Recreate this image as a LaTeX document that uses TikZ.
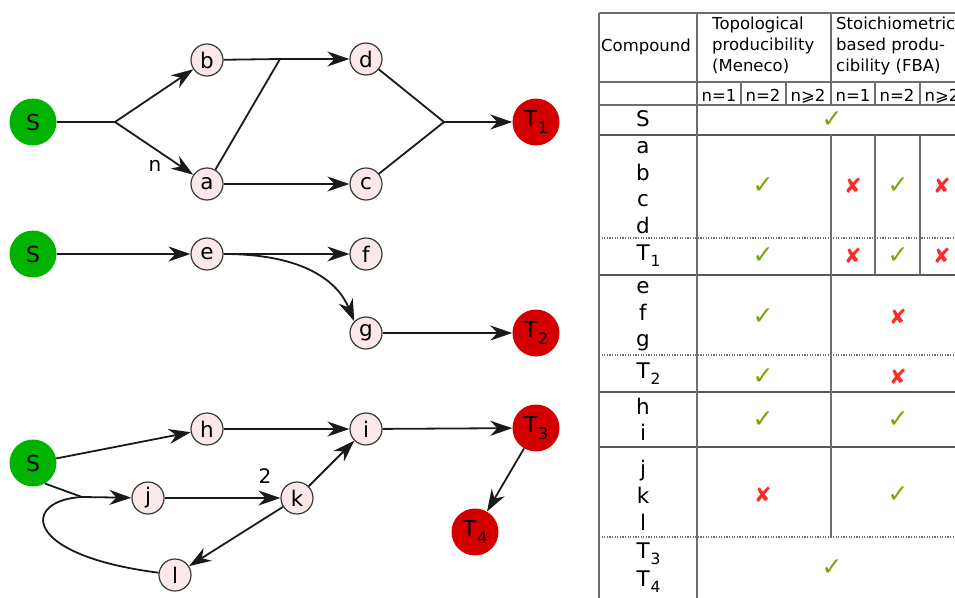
\documentclass[tikz,border=0pt]{standalone}
\usepackage{fontspec}
\setmainfont{DejaVu Sans}
\usetikzlibrary{arrows.meta}
\definecolor{nodefill}{HTML}{FCE8E8}
\definecolor{nodeedge}{HTML}{3A3A3A}
\definecolor{srcgreen}{HTML}{00B300}
\definecolor{tgtred}{HTML}{D40000}
\definecolor{okgreen}{HTML}{76A800}
\definecolor{nored}{HTML}{FF2B2B}
\definecolor{rulegray}{HTML}{6E6E6E}
\definecolor{edgeblack}{HTML}{1A1A1A}
\newcommand{\Tn}[1]{T\kern0.04em\raisebox{-0.3em}{\scalebox{0.72}{#1}}}
\begin{document}
\begin{tikzpicture}[x=1pt,y=-1pt,
  minor/.style={circle,draw=nodeedge,line width=1.2pt,fill=nodefill,minimum size=32pt,inner sep=0pt,font=\fontsize{21.5}{25}\selectfont},
  srcnode/.style={circle,fill=srcgreen,minimum size=47pt,inner sep=0pt,font=\fontsize{22}{26}\selectfont},
  tgtnode/.style={circle,fill=tgtred,minimum size=47pt,inner sep=0pt,font=\fontsize{22}{26}\selectfont},
  link/.style={line width=1.8pt,draw=edgeblack},
  arr/.style={link,-{Stealth[length=22pt,width=15pt,inset=7pt]}},
  elabel/.style={font=\fontsize{20}{24}\selectfont,inner sep=0pt},
  hdr/.style={font=\fontsize{16.5}{20.7}\selectfont,inner sep=0pt,align=left},
  rowlab/.style={font=\fontsize{21.5}{26}\selectfont,inner sep=0pt,anchor=base},
  tickmark/.style={text=okgreen,font=\fontsize{25}{29}\selectfont,inner sep=0pt},
  crossmark/.style={text=nored,font=\fontsize{21}{25}\selectfont,inner sep=0pt},
  thinrule/.style={draw=rulegray,line width=1.1pt},
  thickrule/.style={draw=rulegray!80!black,line width=2.4pt},
  dotrule/.style={draw=rulegray,line width=1.1pt,dash pattern=on 1.2pt off 1.4pt},
]
\clip (0,0) rectangle (955,597);
\fill[white] (0,0) rectangle (955,597);

% ---------- graph 1 ----------
\node[srcnode] (S1) at (33,122) {S};
\node[minor] (b) at (207,60) {b};
\node[minor] (a) at (207,184) {a};
\node[minor] (d) at (366,59) {d};
\node[minor] (c) at (366,184) {c};
\node[tgtnode] (T1) at (536,122) {\Tn{1}};
\coordinate (br1) at (115,122);
\coordinate (jn) at (280,59);
\coordinate (jt) at (444,122);
\draw[link] (S1) -- (br1);
\draw[arr] (br1) -- (b);
\draw[arr] (br1) -- (a);
\node[elabel] (nlab) at (155,166) {n};
\draw[link] (b) -- (jn);
\draw[arr] (jn) -- (d);
\draw[link] (a) -- (jn);
\draw[arr] (a) -- (c);
\draw[link] (d) -- (jt);
\draw[link] (c) -- (jt);
\draw[arr] (jt) -- (T1);

% ---------- graph 2 ----------
\node[srcnode] (S2) at (33,254) {S};
\node[minor] (e) at (207,254) {e};
\node[minor] (f) at (366,254) {f};
\node[minor] (g) at (366,333) {g};
\node[tgtnode] (T2) at (536,333) {\Tn{2}};
\draw[arr] (S2) -- (e);
\draw[arr] (e) -- (f);
\draw[arr] (e.east) .. controls (305,254) and (338,282) .. (g.north west);
\draw[arr] (g) -- (T2);

% ---------- graph 3 ----------
\node[srcnode] (S3) at (33,463) {S};
\node[minor] (h) at (207,429) {h};
\node[minor] (i) at (366,429) {i};
\node[tgtnode] (T3) at (536,428) {\Tn{3}};
\node[minor] (j) at (148,498) {j};
\node[minor] (k) at (297,498) {k};
\node[minor] (l) at (175,575) {l};
\node[tgtnode] (T4) at (475,532) {\Tn{4}};
\coordinate (mj) at (82,497);
\draw[arr] (S3) -- (h);
\draw[arr] (h) -- (i);
\draw[arr] (i) -- (T3);
\draw[link] (S3.-60) -- (mj);
\draw[arr] (mj) -- (j);
\draw[arr] (j) -- (k);
\node[elabel] (twolab) at (265,476) {2};
\draw[arr] (k) -- (i);
\draw[arr] (k) -- (l);
\draw[link] (l.172) .. controls (20,555) and (22,500) .. (mj);
\draw[arr] (T3) -- (T4);

% ---------- table rules ----------
\draw[thinrule] (599,13) -- (970,13);
\draw[thinrule] (599,82) -- (970,82);
\draw[thinrule] (599,105) -- (970,105);
\draw[thickrule] (599,135) -- (970,135);
\draw[dotrule] (599,238) -- (970,238);
\draw[thickrule] (599,275) -- (970,275);
\draw[dotrule] (599,355) -- (970,355);
\draw[thickrule] (599,392) -- (970,392);
\draw[thickrule] (599,447) -- (970,447);
\draw[dotrule] (599,537) -- (970,537);
\draw[thinrule] (599,13) -- (599,600);
\draw[thinrule] (697,13) -- (697,600);
\draw[thinrule] (831,13) -- (831,105);
\draw[thinrule] (831,135) -- (831,537);
\draw[thinrule] (741,82) -- (741,105);
\draw[thinrule] (786,82) -- (786,105);
\draw[thinrule] (875,82) -- (875,105);
\draw[thinrule] (920,82) -- (920,105);
\draw[thinrule] (875,135) -- (875,275);
\draw[thinrule] (920,135) -- (920,275);

% ---------- table header ----------
\node[hdr,anchor=base west] (hcomp) at (601,51) {Compound};
\node[hdr,anchor=north west] (htopo) at (712,17) {Topological\\producibility\\(Meneco)};
\node[hdr,anchor=north west] (hstoi) at (836,17) {Stoichiometric\\based produ-\\cibility (FBA)};
\foreach \xx/\tt/\nm in {719/n=1/ta, 763/n=2/tb, 808/n⩾2/tc, 853/n=1/sa, 897/n=2/sb, 942/n⩾2/sc}
  \node[hdr,anchor=base] (hn\nm) at (\xx,101) {\tt};

% ---------- row labels ----------
\foreach \tt/\yy in {S/126.5, a/153.5, b/180, c/206.5, d/233, e/293.5, f/320, g/346.5, h/414, i/440, j/476, k/503, l/530}
  \node[rowlab] (row\tt) at (643,\yy) {\tt};
\node[rowlab,anchor=base west] (rowT1) at (636.5,260) {\Tn{1}};
\node[rowlab,anchor=base west] (rowT2) at (636.5,378) {\Tn{2}};
\node[rowlab,anchor=base west] (rowT3) at (636.5,558) {\Tn{3}};
\node[rowlab,anchor=base west] (rowT4) at (636.5,586) {\Tn{4}};

% ---------- marks ----------
\node[tickmark] (mS) at (832,120) {✓};
\node[tickmark] (mad1) at (763,186) {✓};
\node[crossmark] (mad2) at (853,186) {✘};
\node[tickmark] (mad3) at (898,186) {✓};
\node[crossmark] (mad4) at (942,186) {✘};
\node[tickmark] (mt11) at (763,256) {✓};
\node[crossmark] (mt12) at (853,256) {✘};
\node[tickmark] (mt13) at (898,256) {✓};
\node[crossmark] (mt14) at (942,256) {✘};
\node[tickmark] (meg1) at (763,317) {✓};
\node[crossmark] (meg2) at (898,317) {✘};
\node[tickmark] (mt21) at (763,377) {✓};
\node[crossmark] (mt22) at (898,377) {✘};
\node[tickmark] (mhi1) at (763,420) {✓};
\node[tickmark] (mhi2) at (898,420) {✓};
\node[crossmark] (mjl1) at (763,495) {✘};
\node[tickmark] (mjl2) at (898,495) {✓};
\node[tickmark] (mt34) at (832,568) {✓};
\end{tikzpicture}
\end{document}
